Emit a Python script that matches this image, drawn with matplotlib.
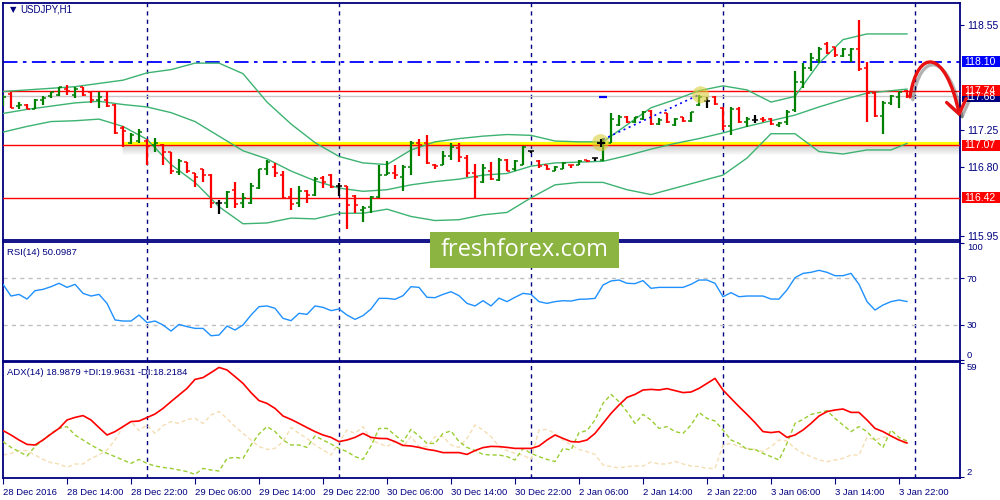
import matplotlib
matplotlib.use("Agg")
import matplotlib.pyplot as plt
import numpy as np
import pandas as pd
from matplotlib.patches import Rectangle, FancyArrowPatch
from matplotlib.path import Path
import matplotlib.patheffects as pe
import matplotlib.transforms as mtransforms

plt.rcParams['font.family'] = ['Liberation Sans', 'DejaVu Sans']

# ---------------- data ----------------
symbol = "USDJPY,H1"
bar_times = pd.date_range("2016-12-28 06:00", "2016-12-30 23:00", freq="h").append(
    pd.date_range("2017-01-02 00:00", "2017-01-03 23:00", freq="h"))

opens = [117.58, 117.70, 117.55, 117.57, 117.52, 117.62, 117.67, 117.69, 117.76, 117.69,
         117.78, 117.72, 117.63, 117.63, 117.57, 117.28, 117.09, 117.12, 117.12, 117.07,
         117.07, 116.98, 116.74, 116.86, 116.72, 116.77, 116.70, 116.35, 116.36, 116.52,
         116.36, 116.35, 116.54, 116.77, 116.80, 116.70, 116.43, 116.36, 116.51, 116.46,
         116.66, 116.70, 116.56, 116.56, 116.44, 116.27, 116.31, 116.43, 116.70, 116.72,
         116.68, 116.80, 117.10, 117.10, 116.83, 116.83, 116.94, 117.03, 116.91, 116.73,
         116.61, 116.75, 116.64, 116.89, 116.77, 116.83, 117.00, 116.87, 116.82, 116.75,
         116.78, 116.83, 116.83, 116.89, 116.91, 116.89, 117.10, 117.32, 117.42, 117.36,
         117.39, 117.49, 117.33, 117.46, 117.32, 117.41, 117.37, 117.57, 117.61, 117.66,
         117.53, 117.30, 117.51, 117.35, 117.38, 117.39, 117.39, 117.32, 117.35, 117.50,
         117.85, 118.02, 118.12, 118.32, 118.28, 118.17, 118.18, 118.25, 118.02, 117.71,
         117.43, 117.59, 117.66, 117.74]
highs = [117.69, 117.72, 117.60, 117.58, 117.64, 117.68, 117.73, 117.79, 117.81, 117.79,
         117.79, 117.73, 117.72, 117.72, 117.58, 117.30, 117.22, 117.27, 117.14, 117.16,
         117.08, 116.98, 116.90, 116.86, 116.73, 116.77, 116.71, 116.39, 116.50, 116.62,
         116.48, 116.60, 116.78, 116.88, 116.85, 116.75, 116.54, 116.56, 116.52, 116.68,
         116.69, 116.71, 116.60, 116.57, 116.46, 116.32, 116.44, 116.82, 116.87, 116.82,
         116.83, 117.12, 117.14, 117.20, 116.84, 117.00, 117.10, 117.10, 116.95, 116.84,
         116.84, 116.86, 116.91, 116.90, 116.89, 117.06, 117.00, 116.88, 116.82, 116.81,
         116.86, 116.83, 116.88, 116.89, 116.91, 117.16, 117.46, 117.44, 117.43, 117.42,
         117.49, 117.50, 117.40, 117.46, 117.40, 117.42, 117.48, 117.69, 117.66, 117.67,
         117.54, 117.54, 117.54, 117.41, 117.44, 117.42, 117.40, 117.36, 117.50, 117.98,
         118.08, 118.20, 118.28, 118.34, 118.28, 118.27, 118.27, 118.61, 118.10, 117.72,
         117.61, 117.69, 117.73, 117.75]
lows = [117.55, 117.53, 117.52, 117.51, 117.51, 117.57, 117.65, 117.68, 117.69, 117.65,
        117.67, 117.59, 117.53, 117.54, 117.21, 117.05, 117.08, 117.10, 116.82, 116.98,
        116.82, 116.71, 116.70, 116.72, 116.55, 116.61, 116.29, 116.22, 116.30, 116.29,
        116.29, 116.34, 116.53, 116.70, 116.68, 116.40, 116.27, 116.31, 116.35, 116.44,
        116.54, 116.54, 116.44, 116.04, 116.23, 116.12, 116.23, 116.42, 116.70, 116.65,
        116.51, 116.70, 116.93, 116.84, 116.77, 116.82, 116.88, 116.86, 116.68, 116.42,
        116.60, 116.64, 116.63, 116.75, 116.75, 116.82, 116.97, 116.79, 116.76, 116.75,
        116.77, 116.79, 116.83, 116.86, 116.87, 116.87, 117.09, 117.30, 117.34, 117.34,
        117.38, 117.32, 117.32, 117.34, 117.30, 117.36, 117.36, 117.55, 117.53, 117.57,
        117.26, 117.20, 117.34, 117.29, 117.34, 117.36, 117.32, 117.29, 117.32, 117.48,
        117.77, 117.98, 118.08, 118.19, 118.15, 118.15, 118.10, 117.98, 117.35, 117.42,
        117.21, 117.57, 117.53, 117.65]
closes = [117.66, 117.53, 117.56, 117.51, 117.63, 117.65, 117.72, 117.78, 117.74, 117.76,
          117.69, 117.62, 117.66, 117.55, 117.22, 117.24, 117.20, 117.23, 117.06, 117.09,
          116.99, 116.75, 116.87, 116.75, 116.68, 116.70, 116.35, 116.35, 116.49, 116.34,
          116.42, 116.57, 116.77, 116.86, 116.73, 116.42, 116.34, 116.50, 116.46, 116.65,
          116.61, 116.55, 116.56, 116.33, 116.33, 116.29, 116.43, 116.70, 116.72, 116.70,
          116.80, 117.10, 117.07, 116.85, 116.81, 116.94, 117.05, 116.92, 116.72, 116.68,
          116.79, 116.65, 116.89, 116.75, 116.87, 117.05, 117.00, 116.81, 116.77, 116.80,
          116.85, 116.82, 116.87, 116.87, 116.91, 117.10, 117.39, 117.42, 117.36, 117.41,
          117.48, 117.33, 117.38, 117.36, 117.39, 117.37, 117.48, 117.66, 117.61, 117.58,
          117.30, 117.51, 117.36, 117.39, 117.38, 117.38, 117.33, 117.34, 117.48, 117.85,
          118.02, 118.14, 118.25, 118.21, 118.18, 118.26, 118.26, 118.01, 117.71, 117.43,
          117.59, 117.68, 117.73, 117.68]

# Bollinger bands, read every third bar (plus the last one)
band_upper = [117.73, 117.75, 117.77, 117.79, 117.83, 117.87, 117.96, 118.00, 118.08, 118.08,
              117.95, 117.60, 117.33, 117.10, 116.93, 116.85, 116.83, 117.01, 117.11, 117.15,
              117.18, 117.20, 117.19, 117.12, 117.11, 117.11, 117.32, 117.53, 117.63, 117.74,
              117.80, 117.75, 117.60, 117.67, 118.08, 118.37, 118.44, 118.44, 118.44]
band_middle = [117.46, 117.51, 117.55, 117.59, 117.61, 117.57, 117.54, 117.47, 117.36, 117.18,
               117.00, 116.90, 116.75, 116.63, 116.54, 116.50, 116.52, 116.58, 116.62, 116.65,
               116.70, 116.72, 116.81, 116.85, 116.86, 116.87, 116.94, 117.02, 117.09, 117.15,
               117.22, 117.30, 117.37, 117.44, 117.54, 117.63, 117.71, 117.74, 117.76]
band_lower = [117.23, 117.30, 117.36, 117.37, 117.39, 117.30, 117.14, 116.83, 116.61, 116.31,
              116.10, 116.11, 116.17, 116.16, 116.23, 116.23, 116.28, 116.19, 116.14, 116.15,
              116.21, 116.24, 116.42, 116.58, 116.61, 116.61, 116.52, 116.46, 116.54, 116.62,
              116.70, 116.91, 117.21, 117.21, 116.99, 116.96, 117.01, 117.01, 117.09]

level_blue = 118.10
levels_red = [117.74, 117.07, 116.42]
support_zone = 117.07
price_ticks = [118.55, 117.25, 116.80, 115.95]

rsi = [64.8, 54.8, 56.2, 52.2, 59.4, 60.5, 62.8, 65.7, 62.2, 64.8,
       57.1, 54.8, 56.2, 48.5, 34.3, 33.4, 33.4, 38.5, 32.0, 33.4,
       30.0, 24.8, 30.5, 28.6, 27.1, 27.1, 20.8, 21.4, 29.1, 25.7,
       30.0, 38.5, 45.7, 46.3, 44.3, 35.7, 33.7, 40.0, 39.1, 46.3,
       45.1, 42.3, 43.7, 38.5, 34.8, 38.0, 43.7, 52.8, 52.8, 52.0,
       55.1, 62.8, 62.2, 53.7, 53.4, 56.2, 58.5, 55.1, 48.5, 46.3,
       50.8, 46.3, 53.0, 50.0, 53.7, 57.1, 56.2, 50.0, 48.5, 50.0,
       50.8, 50.5, 52.0, 52.2, 52.8, 64.2, 67.7, 68.5, 65.7, 65.4,
       68.0, 61.4, 62.2, 62.2, 62.2, 62.2, 64.8, 68.5, 68.5, 65.7,
       54.2, 57.7, 54.2, 54.8, 54.8, 54.8, 52.2, 52.2, 60.0, 70.5,
       74.2, 75.1, 76.8, 75.1, 72.2, 72.2, 74.2, 64.8, 50.0, 42.8,
       47.1, 50.0, 51.4, 50.0987]

adx = [25.2, 23.0, 20.5, 18.3, 18.0, 20.5, 23.5, 26.3, 30.5, 31.8,
       32.7, 30.5, 26.7, 23.0, 24.7, 27.2, 29.7, 30.0, 31.7, 33.5,
       36.3, 39.7, 43.0, 46.3, 50.8, 51.7, 54.2, 56.8, 55.5, 52.2,
       48.8, 44.2, 40.2, 38.8, 36.3, 32.5, 30.8, 28.8, 26.7, 24.7,
       23.0, 21.8, 19.7, 20.5, 21.8, 23.8, 21.8, 21.3, 21.2, 19.7,
       17.8, 17.5, 16.8, 15.8, 15.2, 14.2, 14.2, 14.2, 13.3, 15.2,
       16.7, 17.3, 17.2, 16.8, 16.3, 16.3, 16.3, 17.5, 20.5, 23.0,
       21.3, 19.7, 19.5, 20.5, 23.8, 28.8, 33.8, 38.0, 41.8, 43.3,
       45.5, 45.8, 45.5, 46.2, 45.2, 44.2, 44.5, 46.3, 48.8, 51.3,
       45.5, 41.3, 37.2, 33.3, 29.2, 24.7, 24.2, 24.7, 21.8, 23.0,
       25.5, 28.8, 32.5, 34.7, 35.5, 36.0, 34.3, 34.3, 30.5, 26.3,
       24.7, 22.5, 20.5, 18.9879]
plus_di = [19.7, 16.8, 14.7, 12.5, 17.2, 20.5, 23.8, 26.3, 27.2, 23.0,
           20.5, 18.0, 15.8, 13.8, 12.2, 10.5, 8.8, 10.8, 8.8, 7.5,
           6.8, 6.3, 5.5, 4.7, 3.3, 6.3, 5.5, 5.0, 11.3, 11.8,
           11.3, 18.0, 23.5, 27.2, 24.7, 20.5, 18.0, 18.0, 16.8, 22.5,
           20.5, 18.5, 16.3, 14.7, 12.2, 10.8, 17.5, 26.3, 26.3, 23.0,
           19.7, 25.8, 22.5, 18.8, 18.8, 23.8, 25.0, 19.7, 16.8, 15.2,
           13.3, 13.0, 13.0, 12.2, 10.5, 16.3, 13.8, 12.2, 10.8, 9.7,
           16.3, 15.5, 24.2, 25.2, 30.5, 38.8, 43.3, 39.7, 34.7, 28.8,
           33.3, 30.5, 26.3, 27.2, 24.7, 23.8, 28.0, 34.3, 31.3, 30.0,
           25.5, 20.5, 18.8, 15.8, 15.8, 13.8, 12.2, 10.5, 18.8, 28.8,
           30.8, 33.3, 34.2, 35.2, 31.3, 28.0, 24.7, 27.2, 24.7, 20.5,
           16.8, 25.5, 21.8, 19.9631]
minus_di = [13.0, 13.8, 15.2, 15.2, 13.0, 10.8, 9.2, 8.5, 6.8, 8.5,
            8.5, 11.3, 13.0, 15.5, 20.5, 27.2, 29.7, 25.2, 28.0, 23.8,
            27.7, 29.7, 28.8, 30.8, 31.3, 28.8, 33.0, 34.7, 31.3, 27.2,
            23.8, 20.5, 17.2, 15.8, 16.3, 19.7, 26.7, 23.8, 21.3, 18.0,
            15.5, 13.0, 19.2, 25.5, 23.8, 27.2, 20.5, 18.8, 17.2, 19.7,
            17.2, 22.2, 17.2, 17.2, 22.2, 22.2, 18.0, 16.8, 21.3, 28.0,
            25.5, 22.2, 17.2, 15.2, 13.8, 13.0, 10.8, 25.5, 25.8, 23.8,
            20.5, 18.0, 15.8, 14.7, 13.3, 8.0, 7.2, 6.5, 7.2, 7.5,
            7.5, 9.5, 8.5, 8.5, 9.8, 8.5, 7.5, 7.2, 6.3, 6.3,
            18.0, 18.8, 17.2, 16.3, 15.8, 14.7, 17.2, 20.5, 20.0, 16.3,
            13.8, 12.2, 10.5, 9.7, 10.5, 11.3, 13.0, 13.0, 21.8, 20.5,
            21.8, 22.5, 20.5, 18.2184]

# ---------------- figure ----------------
NAVY = '#000080'
UP, DOWN, DOJI = '#008000', '#ff0000', '#000000'
BAND = '#3cb371'

n = len(opens)
idx = np.arange(n)
o, h, l, c = map(np.array, (opens, highs, lows, closes))
band_idx = list(range(0, n - 2, 3)) + [n - 1]
sep_idx = [i for i, t in enumerate(bar_times) if t.hour == 0] + [n]
tick_idx = list(range(0, n, 8))
tick_lbl = [f"{bar_times[0].day} {bar_times[0].strftime('%b %Y')}"] + \
           [f"{bar_times[i].day} {bar_times[i].strftime('%b %H:%M')}" for i in tick_idx[1:]]

fig = plt.figure(figsize=(10, 5), dpi=100, facecolor='white')
L, W = 2.7 / 1000, (960 - 2.7) / 1000
ax1 = fig.add_axes([L, 1 - 240 / 500, W, (240 - 2.7) / 500])
ax2 = fig.add_axes([L, 1 - 360.5 / 500, W, (360.5 - 242.3) / 500])
ax3 = fig.add_axes([L, 1 - 478 / 500, W, (478 - 362.3) / 500])

XMIN, XMAX = -0.04, 119.625
for ax in (ax1, ax2, ax3):
    ax.set_xlim(XMIN, XMAX)
    for s in ax.spines.values():
        s.set_color(NAVY)
        s.set_linewidth(1.3)
    ax.yaxis.tick_right()
    ax.tick_params(axis='y', colors=NAVY, labelcolor=NAVY, labelsize=7, length=3,
                   width=0.8, pad=2)
    ax.set_xticks([])
    for d in sep_idx:
        ax.axvline(d, color=NAVY, lw=1.0, ls=(0, (3, 3)), zorder=1)

# ---- price panel ----
ax1.set_ylim(115.90, 118.825)
ax1.set_yticks(price_ticks)
ax1.set_yticklabels([f"{p:.2f}" for p in price_ticks])
ax1.tick_params(axis='y', labelsize=7.5)

ax1.axhline(closes[-1], color='#c8c8c8', lw=1.0, zorder=2)
ax1.axhline(level_blue, color='#0000ff', lw=1.3, ls=(0, (8, 3, 2, 3)), zorder=2)

zone_start = 15
ax1.hlines(support_zone + 0.018, zone_start - 0.1, XMAX, color='#ffff00', lw=3.0, zorder=2.5)
for k in range(9):
    ax1.hlines(support_zone - 0.0123 * (k + 0.5), zone_start - 0.1, XMAX,
               color='#707070', alpha=0.30 * (1 - k / 9), lw=0.75, zorder=2.4)
for lv in levels_red:
    ax1.axhline(lv, color='#ff0000', lw=1.0, zorder=2.6)

ax1.plot(band_idx, band_upper, color=BAND, lw=1.0, zorder=3)
ax1.plot(band_idx, band_middle, color=BAND, lw=1.0, zorder=3)
ax1.plot(band_idx, band_lower, color=BAND, lw=1.0, zorder=3)

cols = np.where(c > o, UP, np.where(c < o, DOWN, DOJI))
ax1.vlines(idx, l, h, colors=cols, lw=1.6, zorder=4)
ax1.hlines(o, idx - 0.42, idx, colors=cols, lw=1.1, zorder=4)
ax1.hlines(c, idx, idx + 0.42, colors=cols, lw=1.1, zorder=4)

# trend line between two highlighted points
p1 = (75, closes[75])
p2 = (87, highs[87])
ax1.plot([p1[0], p2[0]], [p1[1] + 0.04, p2[1]], ls=(0, (1.2, 2.2)), color='#0000ff', lw=1.2, zorder=5)
ax1.scatter([p1[0] - 0.3, p2[0] + 0.2], [p1[1], p2[1]], s=150, color='#d8cf3a', alpha=0.6,
            edgecolors='none', zorder=6)
ax1.plot(p1[0] - 0.3, p1[1], marker='+', ms=6, mew=1.5, color='black', zorder=7)
ax1.plot(75, 117.66, marker='_', ms=6, mew=1.6, color='#0000ff', zorder=5)

# right-side price labels
btr = mtransforms.blended_transform_factory(ax1.transAxes, ax1.transData)
hh = 0.068
def price_box(val, fc, text, dy=0.0):
    ax1.add_patch(Rectangle((1.0018, val - hh + dy), 0.045, 2 * hh, transform=btr, facecolor=fc,
                            edgecolor='none', clip_on=False, zorder=10))
    ax1.text(1.0045, val + dy, text, transform=btr, color='white', fontsize=7.5, va='center',
             ha='left', clip_on=False, zorder=11)

price_box(closes[-1], NAVY, f"{closes[-1]:.2f}", dy=-0.012)
price_box(level_blue, '#0000ff', f"{level_blue:.2f}")
for lv in levels_red:
    price_box(lv, '#ff0000', f"{lv:.2f}")

# hand-drawn style arrow
arrow_path = Path([(n - 1 + 0.375, 117.663), (n - 1 + 1.3, 118.27), (n - 1 + 4.8, 118.27),
                   (n - 1 + 6.6, 117.42)],
                  [Path.MOVETO, Path.CURVE4, Path.CURVE4, Path.CURVE4])
arr = FancyArrowPatch(path=arrow_path, arrowstyle='->,head_length=0.55,head_width=0.4',
                      mutation_scale=18, lw=2.4, color='#e81010', clip_on=False, zorder=12)
arr.set_path_effects([pe.SimpleLineShadow(offset=(2, -2), alpha=0.3), pe.Normal()])
ax1.add_patch(arr)

ax1.text(0.0075, 0.97, '▼', transform=ax1.transAxes, color=NAVY, fontsize=6,
         va='center', ha='left', family=['DejaVu Sans'])
ax1.text(0.018, 0.97, symbol, transform=ax1.transAxes, color=NAVY, fontsize=7,
         va='center', ha='left')

# ---- RSI panel ----
ax2.set_ylim(-0.4, 100.8)
ax2.axhline(70, color='#c0c0c0', lw=1.0, ls=(0, (3, 3)), zorder=1)
ax2.axhline(30, color='#c0c0c0', lw=1.0, ls=(0, (3, 3)), zorder=1)
ax2.plot(idx, rsi, color='#1e90ff', lw=1.0, zorder=3)
ax2.set_yticks([0, 30, 70, 100])
ax2.set_yticklabels(['0', '30', '70', '100'])
ax2.tick_params(axis='y', labelsize=6.8)
ticks2 = ax2.yaxis.get_major_ticks()
ticks2[0].label2.set_va('bottom')
ticks2[3].label2.set_va('top')
ax2.text(0.0045, 0.915, f"RSI(14) {rsi[-1]:.4f}", transform=ax2.transAxes, color=NAVY,
         fontsize=6.8, va='center', ha='left')

# ---- ADX panel ----
ax3.set_ylim(1.5, 59.35)
ax3.plot(idx, minus_di, color='#f5deb3', lw=1.0, ls=(0, (3, 2)), zorder=2)
ax3.plot(idx, plus_di, color='#9acd32', lw=1.0, ls=(0, (3, 2)), zorder=3)
ax3.plot(idx, adx, color='#ff0000', lw=1.2, zorder=4)
ax3.set_yticks([2, 59])
ax3.set_yticklabels(['2', '59'])
ax3.tick_params(axis='y', labelsize=6.8)
ticks3 = ax3.yaxis.get_major_ticks()
ticks3[0].label2.set_va('bottom')
ticks3[1].label2.set_va('top')
ax3.text(0.0045, 0.915,
         f"ADX(14) {adx[-1]:.4f} +DI:{plus_di[-1]:.4f} -DI:{minus_di[-1]:.4f}",
         transform=ax3.transAxes, color=NAVY, fontsize=6.8, va='center', ha='left')
ax3.set_xticks(tick_idx)
ax3.set_xticklabels(tick_lbl)
ax3.tick_params(axis='x', colors=NAVY, labelcolor=NAVY, labelsize=6.8, length=4,
                width=0.8, pad=3)
for t in ax3.get_xticklabels():
    t.set_ha('left')

# watermark
fig.add_artist(Rectangle((430 / 1000, 1 - 268 / 500), (619 - 430) / 1000, 36 / 500,
                         transform=fig.transFigure, facecolor='#8cb441', edgecolor='none',
                         zorder=20))
fig.text(524.5 / 1000, 1 - 250.5 / 500, 'freshforex.com', color='white', fontsize=17,
         family=['Open Sans', 'DejaVu Sans'], ha='center', va='center', zorder=21)

fig.savefig('out.png', dpi=100, facecolor='white')
